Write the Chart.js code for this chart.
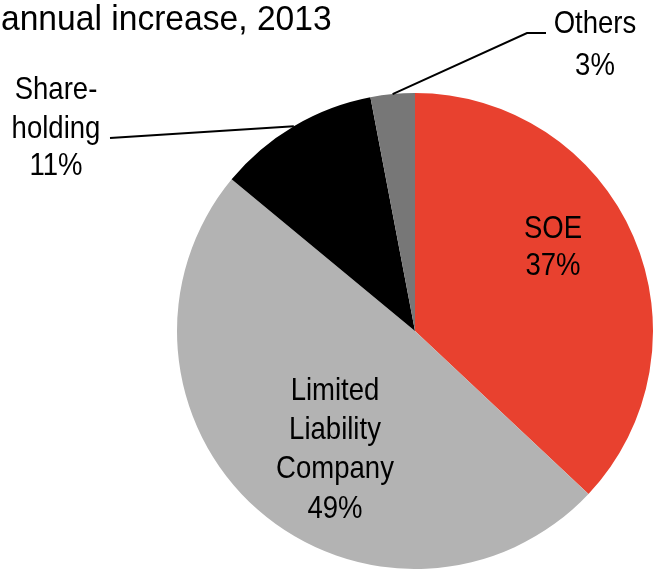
<!DOCTYPE html>
<html>
<head>
<meta charset="utf-8">
<script src="https://cdn.jsdelivr.net/npm/chart.js@4"></script>
<style>
  html, body { margin: 0; padding: 0; background: #fff; }
  #wrap { width: 654px; height: 569px; position: relative; }
</style>
</head>
<body>
<div id="wrap"><canvas id="c" width="654" height="569"></canvas></div>
<script>
// ---- data ----
const categories = ["SOE", "Limited Liability Company", "Shareholding", "Others"];
const shares = [37, 49, 11, 3];
const labelLines = [
  ["SOE", "37%"],
  ["Limited", "Liability", "Company", "49%"],
  ["Share-", "holding", "11%"],
  ["Others", "3%"]
];
const titleText = "annual increase, 2013";

// ---- styles / layout (not data) ----
const colors = ["#E8412F", "#B3B3B3", "#000000", "#777777"];
const labelLayout = [
  { x: 553, baselines: [238, 275] },
  { x: 335, baselines: [400, 439, 478, 518] },
  { x: 56,  baselines: [99, 138, 175] },
  { x: 595, baselines: [33, 75] }
];
// leader lines: index -> points after arc anchor
const leaders = {
  2: [[110, 138]],
  3: [[527, 33], [546, 33]]
};
const FONT = '"Liberation Sans", Arial, sans-serif';

function drawScaledText(ctx, txt, x, y, size, sx, align) {
  ctx.save();
  ctx.font = size + 'px ' + FONT;
  ctx.textBaseline = 'alphabetic';
  ctx.textAlign = align;
  ctx.translate(x, y);
  ctx.scale(sx, 1);
  ctx.fillText(txt, 0, 0);
  ctx.restore();
}

const overlay = {
  id: 'overlay',
  afterDatasetsDraw(chart) {
    const ctx = chart.ctx;
    const meta = chart.getDatasetMeta(0);
    ctx.save();
    ctx.fillStyle = '#000';
    // leader lines
    ctx.strokeStyle = '#000';
    ctx.lineWidth = 2;
    Object.keys(leaders).forEach(k => {
      const arc = meta.data[+k];
      const p = arc.getProps(['x', 'y', 'startAngle', 'endAngle', 'outerRadius'], true);
      const a = (p.startAngle + p.endAngle) / 2;
      ctx.beginPath();
      ctx.moveTo(p.x + Math.cos(a) * p.outerRadius, p.y + Math.sin(a) * p.outerRadius);
      leaders[k].forEach(pt => ctx.lineTo(pt[0], pt[1]));
      ctx.stroke();
    });
    // labels
    labelLines.forEach((lines, i) => {
      const L = labelLayout[i];
      lines.forEach((t, j) => drawScaledText(ctx, t, L.x, L.baselines[j], 32, 0.86, 'center'));
    });
    // title
    drawScaledText(ctx, titleText, 1, 30, 35, 0.96, 'left');
    ctx.restore();
  }
};

new Chart(document.getElementById('c'), {
  type: 'pie',
  data: {
    labels: categories,
    datasets: [{
      data: shares,
      backgroundColor: colors,
      borderWidth: 0
    }]
  },
  options: {
    responsive: false,
    animation: false,
    layout: { padding: { left: 177, right: 1, top: 93, bottom: 0 } },
    plugins: {
      legend: { display: false },
      tooltip: { enabled: false },
      title: { display: false }
    }
  },
  plugins: [overlay]
});
</script>
</body>
</html>
